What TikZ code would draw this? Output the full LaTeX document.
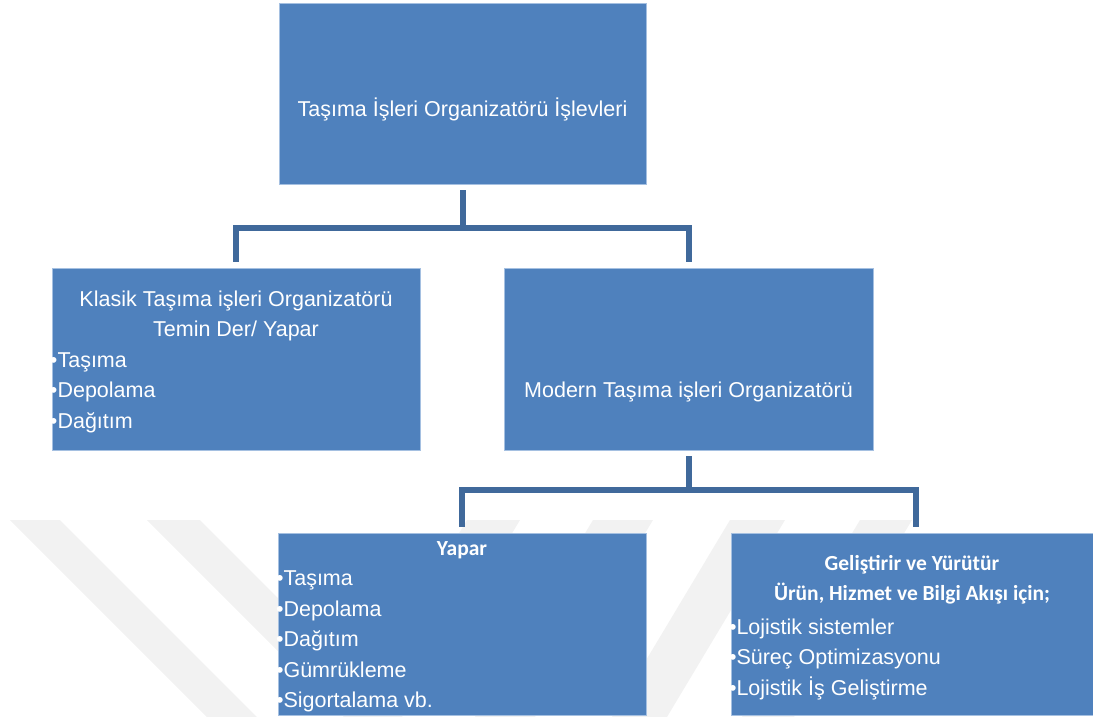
\documentclass[tikz,border=0pt]{standalone}
\usepackage{fontspec}
\usetikzlibrary{calc}
\setmainfont{Liberation Sans}
\newfontfamily\calb{Carlito}[BoldFont={* Bold}]
\definecolor{boxblue}{RGB}{79,129,189}
\definecolor{boxedge}{RGB}{165,192,225}
\definecolor{conblue}{RGB}{64,105,155}
\definecolor{wmgray}{RGB}{242,242,242}
\tikzset{
  box/.style={fill=boxblue, draw=boxedge, line width=0.7pt, inner sep=0pt, text=white,
              font={\fontsize{21.5}{30.5}\selectfont}},
  conn/.style={draw=conblue, line width=6pt, line join=miter, shorten <=6pt, shorten >=6pt},
  wm/.style={fill=wmgray, draw=none}
}
\newcommand{\bl}{\hspace*{-2pt}•}
\newcommand{\hdfont}{\calb\bfseries\fontsize{21.5}{30.5}\selectfont}
\newcommand{\boxstart}{\parindent=0pt\raggedright\spaceskip=0pt\xspaceskip=0pt}
\begin{document}
\begin{tikzpicture}[x=1pt,y=-1pt]
\useasboundingbox (0,0) rectangle (1093,717);
% faint watermark
\fill[wm] (10,520) -- (60,520) -- (257,717) -- (207,717) -- cycle;
\fill[wm] (147,520) -- (200,520) -- (397,717) -- (344,717) -- cycle;
\fill[wm] (467,520) -- (520,520) -- (402,717) -- (349,717) -- cycle;
\fill[wm] (593,520) -- (653,520) -- (535,717) -- (475,717) -- cycle;
\fill[wm] (730,520) -- (785,520) -- (667,717) -- (612,717) -- cycle;
\fill[wm] (860,520) -- (912,520) -- (794,717) -- (742,717) -- cycle;
% boxes
\node[box, minimum width=367pt, minimum height=181pt, align=center, text height=45pt, text depth=0pt] (top) at (462.5,93.5)
  {Taşıma İşleri Organizatörü İşlevleri};
\node[box, text width=368pt, minimum height=182pt] (klasik) at (236,359)
  {\boxstart{\centering Klasik Taşıma işleri Organizatörü\\Temin Der/ Yapar\par}
   \bl Taşıma\\\bl Depolama\\\bl Dağıtım\par\vspace{-5pt}};
\node[box, minimum width=369pt, minimum height=182pt, align=center, text height=76pt, text depth=0pt] (modern) at (688.5,359)
  {Modern Taşıma işleri Organizatörü};
\node[box, text width=368pt, minimum height=182pt] (yapar) at (462,624)
  {\boxstart{\centering\hdfont Yapar\par}
   \bl Taşıma\\\bl Depolama\\\bl Dağıtım\\\bl Gümrükleme\\\bl Sigortalama vb.\par\vspace{-6pt}};
\node[box, text width=362pt, minimum height=182pt] (gelis) at (912,624)
  {\boxstart{\centering\hdfont Geliştirir ve Yürütür\\Ürün, Hizmet ve Bilgi Akışı için;\par}
   \vspace{3pt}\bl Lojistik sistemler\\\bl Süreç Optimizasyonu\\\bl Lojistik İş Geliştirme\par\vspace{-7pt}};
% connectors
\draw[conn] (top.south) -- ++(0,44) -| (klasik.north);
\draw[conn] (top.south) -- ++(0,44) -| (modern.north);
\draw[conn] (modern.south) -- ++(0,40) -| (yapar.north);
\draw[conn] (modern.south) -- ++(0,40) -| ($(gelis.north)+(4,0)$);
\end{tikzpicture}
\end{document}
